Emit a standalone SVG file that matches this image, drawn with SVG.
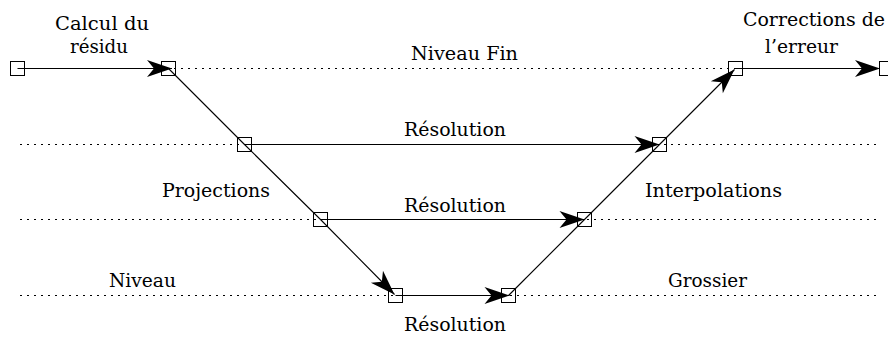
<svg xmlns="http://www.w3.org/2000/svg" width="888" height="338" viewBox="0 0 888 338">
<style>
  .lvl { stroke: #000; stroke-width: 1; stroke-dasharray: 2 5; fill: none; }
  .node rect { fill: none; stroke: #000; stroke-width: 1; }
  .edge { stroke: #000; stroke-width: 1.1; fill: none; }
  .arr { marker-end: url(#ah); }
  .lbl { font-family: "DejaVu Serif", "Liberation Serif", serif; font-size: 19px; fill: #000; }
</style>
<defs>
  <marker id="ah" markerUnits="userSpaceOnUse" viewBox="-27 -10 28 20" refX="0" refY="0" markerWidth="28" markerHeight="20" orient="auto">
    <path d="M0,0 L-25,-8.5 L-18,0 L-25,8.5 Z" fill="#000"/>
  </marker>
</defs>
<rect width="888" height="338" fill="#fff"/>
<g id="levels">
  <line class="lvl" x1="20" y1="68.5" x2="879" y2="68.5"/>
  <line class="lvl" x1="20" y1="144.5" x2="879" y2="144.5"/>
  <line class="lvl" x1="20" y1="219.5" x2="879" y2="219.5"/>
  <line class="lvl" x1="20" y1="295.5" x2="879" y2="295.5"/>
</g>
<g id="connectors">
  <line class="edge arr" x1="17.5" y1="68.5" x2="172" y2="68.5"/>
  <polyline class="edge arr" points="168.5,68.5 244.5,144.5 320.5,219.5 394.5,294.5"/>
  <line class="edge arr" x1="244.5" y1="144.5" x2="659.5" y2="144.5"/>
  <line class="edge arr" x1="320.5" y1="219.5" x2="584.5" y2="219.5"/>
  <line class="edge arr" x1="395.5" y1="295.5" x2="509.5" y2="295.5"/>
  <polyline class="edge arr" points="508.5,295.5 584.5,219.5 659.5,144.5 734.5,69.5"/>
  <line class="edge arr" x1="735.5" y1="68.5" x2="880" y2="68.5"/>
</g>
<g id="nodeA" class="node"><rect x="10.5" y="61.5" width="14" height="14"/></g>
<g id="nodeB" class="node"><rect x="161.5" y="61.5" width="14" height="14"/></g>
<g id="nodeC" class="node"><rect x="237.5" y="137.5" width="14" height="14"/></g>
<g id="nodeD" class="node"><rect x="313.5" y="212.5" width="14" height="14"/></g>
<g id="nodeE" class="node"><rect x="388.5" y="288.5" width="14" height="14"/></g>
<g id="nodeF" class="node"><rect x="501.5" y="288.5" width="14" height="14"/></g>
<g id="nodeG" class="node"><rect x="577.5" y="212.5" width="14" height="14"/></g>
<g id="nodeH" class="node"><rect x="652.5" y="137.5" width="14" height="14"/></g>
<g id="nodeI" class="node"><rect x="728.5" y="61.5" width="14" height="14"/></g>
<g id="nodeJ" class="node"><rect x="879.5" y="61.5" width="14" height="14"/></g>
<g id="labels" font-family="DejaVu Serif, Liberation Serif, serif">
  <text class="lbl" x="55" y="30" textLength="94" lengthAdjust="spacingAndGlyphs">Calcul du</text>
  <text class="lbl" x="70" y="53" textLength="58" lengthAdjust="spacingAndGlyphs">résidu</text>
  <text class="lbl" x="411" y="60" textLength="107" lengthAdjust="spacingAndGlyphs">Niveau Fin</text>
  <text class="lbl" x="743" y="26" textLength="142" lengthAdjust="spacingAndGlyphs">Corrections de</text>
  <text class="lbl" x="765" y="53" textLength="73" lengthAdjust="spacingAndGlyphs">l’erreur</text>
  <text class="lbl" x="404" y="136" textLength="102" lengthAdjust="spacingAndGlyphs">Résolution</text>
  <text class="lbl" x="162" y="197" textLength="108" lengthAdjust="spacingAndGlyphs">Projections</text>
  <text class="lbl" x="404" y="212" textLength="102" lengthAdjust="spacingAndGlyphs">Résolution</text>
  <text class="lbl" x="645" y="197" textLength="137" lengthAdjust="spacingAndGlyphs">Interpolations</text>
  <text class="lbl" x="109" y="287" textLength="67" lengthAdjust="spacingAndGlyphs">Niveau</text>
  <text class="lbl" x="668" y="287" textLength="79" lengthAdjust="spacingAndGlyphs">Grossier</text>
  <text class="lbl" x="404" y="331" textLength="102" lengthAdjust="spacingAndGlyphs">Résolution</text>
</g>
</svg>
